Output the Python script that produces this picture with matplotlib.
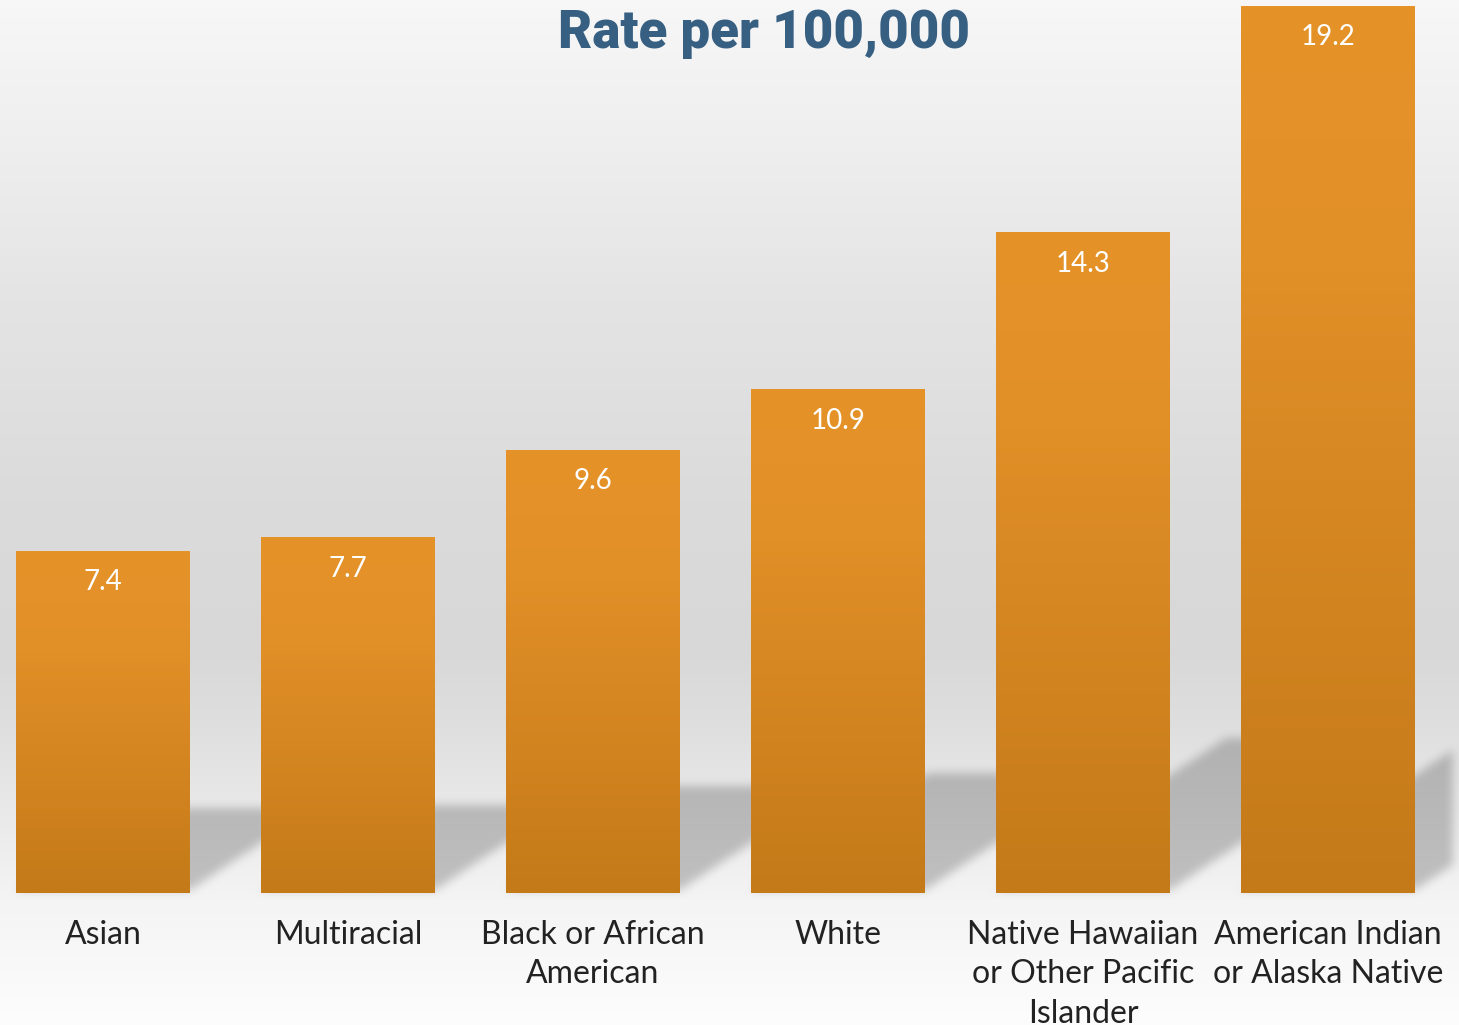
import numpy as np
import matplotlib
matplotlib.use("Agg")
import matplotlib.pyplot as plt

# data
categories = ["Asian", "Multiracial", "Black or African\nAmerican", "White",
              "Native Hawaiian\nor Other Pacific\nIslander",
              "American Indian\nor Alaska Native"]
rates = [7.4, 7.7, 9.6, 10.9, 14.3, 19.2]
title = "Rate per 100,000"

W, H, DPI = 1459, 1025, 100
fig = plt.figure(figsize=(W / DPI, H / DPI), dpi=DPI)

# background: light vertical gradient
ax_bg = fig.add_axes([0, 0, 1, 1], zorder=0)
ax_bg.set_axis_off()

ax = fig.add_axes([0, 132 / H, 1, 893 / H], zorder=1)
ax.patch.set_alpha(0)
x = np.arange(len(rates))
ax.set_xlim(-103 / 245, (W - 103) / 245)
ax.set_ylim(0, 19.2 * 893 / 887)
for s in ax.spines.values():
    s.set_visible(False)
ax.set_yticks([])
ax.set_xticks(x)
ax.set_xticklabels(categories, fontsize=23, family=["Lato", "DejaVu Sans"],
                   color="#222222", linespacing=1.39)
ax.tick_params(axis="x", length=0, pad=19.5)

bars = ax.bar(x, rates, width=0.71, color="none", edgecolor="none", zorder=2)

# gradient fill for each bar
stops = np.array([0.0, 0.3, 1.0])
cols = np.array([[229, 147, 41], [225, 143, 39], [196, 122, 25]]) / 255
t = np.linspace(0, 1, 256)
grad = np.stack([np.interp(t, stops, cols[:, k]) for k in range(3)], axis=-1)[:, None, :]
for b in bars:
    x0, h, w = b.get_x(), b.get_height(), b.get_width()
    im = ax.imshow(grad, extent=[x0, x0 + w, 0, h], aspect="auto",
                   origin="upper", zorder=2, interpolation="bilinear")
    im.set_clip_path(b)
ax.set_xlim(-103 / 245, (W - 103) / 245)
ax.set_ylim(0, 19.2 * 893 / 887)

for xi, v in zip(x, rates):
    ax.annotate(f"{v}", (xi, v), xytext=(0, -22.5), textcoords="offset points",
                ha="center", va="center", color="white", fontsize=20,
                family=["Lato", "DejaVu Sans"], zorder=3)

# background image with perspective shadows behind the bars
rows = np.arange(H, dtype=float)
ys = [0, 120, 300, 500, 650, 720, 800, 893, 900, 1025]
gs = [247, 240, 228, 219, 216, 222, 232, 243, 244, 253]
col = np.interp(rows, ys, gs)
bg = np.repeat(col[:, None], W, axis=1)

mask = np.zeros((H, W))
rr = rows[:, None]
cc = np.arange(W, dtype=float)[None, :]
for b in bars:
    (px0, py0), (px1, py1) = ax.transData.transform(
        [(b.get_x(), 0), (b.get_x() + b.get_width(), b.get_height())])
    base = H - py0 - 4
    hpx = py1 - py0
    reach = 0.22 * hpx + 6
    u = base - rr
    shift = u / 0.66
    inside = (u >= 0) & (u <= reach) & (cc >= px0 + shift) & (cc <= px1 + shift)
    mask = np.maximum(mask, inside.astype(float))
mask[:, 1453:] = 0


def box_blur(a, r):
    k = np.ones(2 * r + 1) / (2 * r + 1)
    a = np.apply_along_axis(lambda m: np.convolve(m, k, mode="same"), 0, a)
    a = np.apply_along_axis(lambda m: np.convolve(m, k, mode="same"), 1, a)
    return a


mask = box_blur(box_blur(mask, 5), 5)
bg = bg * (1 - 0.21 * mask)
img = np.clip(bg / 255, 0, 1)
ax_bg.imshow(np.dstack([img] * 3), extent=(0, W, H, 0), aspect="auto",
             interpolation="nearest")
ax_bg.set_xlim(0, W)
ax_bg.set_ylim(H, 0)

fig.text(764.5 / W, 1 - 48 / H, title, ha="center", va="baseline",
         fontsize=38, fontweight="black", family=["Roboto", "DejaVu Sans"],
         color="#365f82")

fig.savefig("out.png", dpi=DPI)
